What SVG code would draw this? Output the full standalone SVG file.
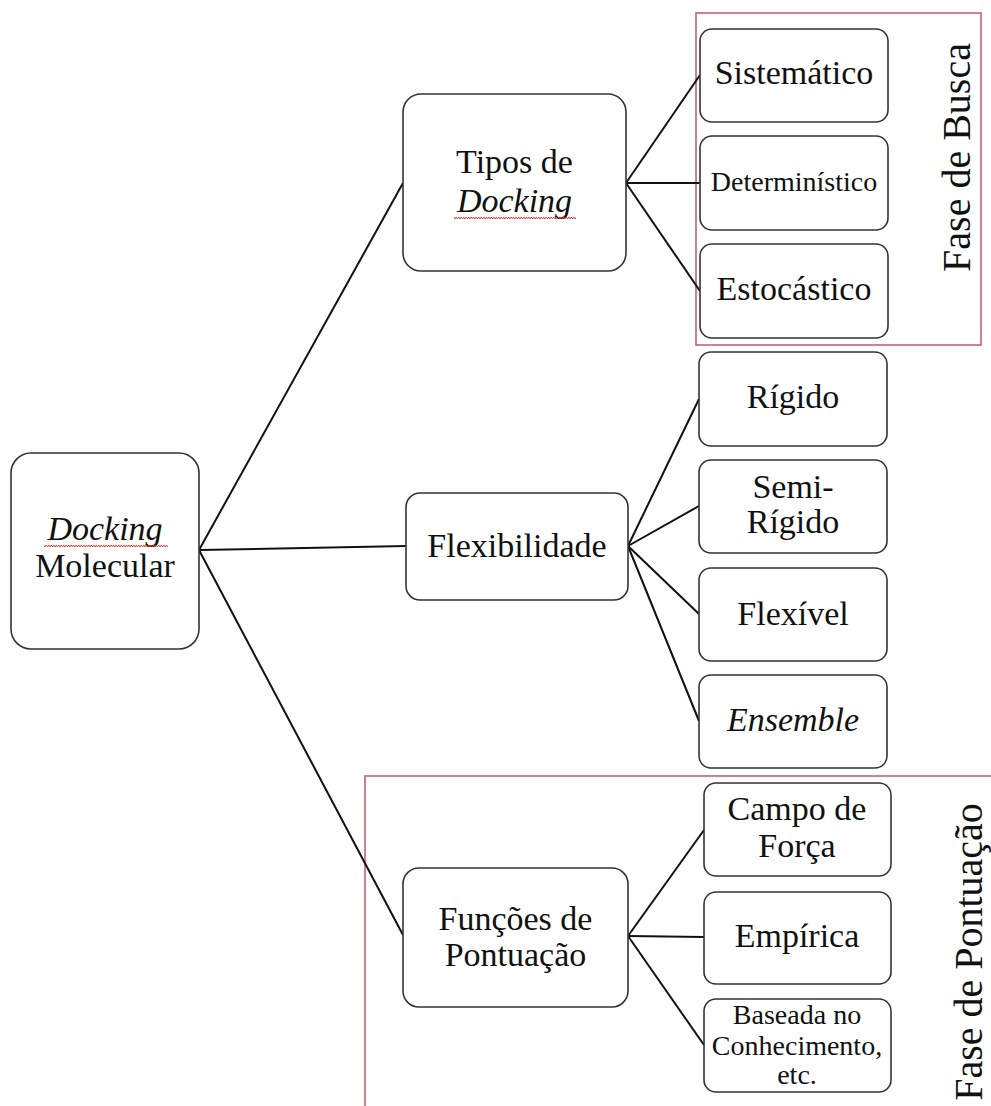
<svg xmlns="http://www.w3.org/2000/svg" width="991" height="1106" viewBox="0 0 991 1106" font-family="Liberation Serif, Times New Roman, DejaVu Serif, serif">
<defs>
<style>
.box{fill:#fff;stroke:#333;stroke-width:1.6}
.t{fill:#111;text-anchor:middle}
.lg{font-size:34px}
.md{font-size:34px}
.sm{font-size:28px}
.conn line{stroke:#111;stroke-width:2}
.phase{fill:none;stroke:#c25866;stroke-width:1.5}
.it{font-style:italic}
</style>
<pattern id="wave" width="5" height="4" patternUnits="userSpaceOnUse">
<polyline points="0,3 1.25,1 2.5,3 3.75,1 5,3" fill="none" stroke="#e03030" stroke-width="0.9"/>
</pattern>
</defs>
<rect width="991" height="1106" fill="#fff"/>

<g id="phase-busca">
<rect class="phase" x="696" y="13" width="285" height="332"/>
<text class="t" font-size="40" transform="translate(970,157.5) rotate(-90)">Fase de Busca</text>
</g>
<g id="phase-pontuacao">
<path class="phase" d="M995,776 H365 V1110"/>
<text class="t" font-size="40" transform="translate(982,952) rotate(-90)">Fase de Pontuação</text>
</g>

<g id="connectors" class="conn">
<line x1="199" y1="550" x2="403" y2="183"/>
<line x1="199" y1="550" x2="406" y2="546"/>
<line x1="199" y1="550" x2="403" y2="935"/>
<line x1="626" y1="183" x2="700" y2="75"/>
<line x1="626" y1="183" x2="700" y2="183"/>
<line x1="626" y1="183" x2="700" y2="291"/>
<line x1="628" y1="546" x2="699" y2="399"/>
<line x1="628" y1="546" x2="699" y2="506"/>
<line x1="628" y1="546" x2="699" y2="614"/>
<line x1="628" y1="546" x2="699" y2="721"/>
<line x1="628" y1="936" x2="704" y2="830"/>
<line x1="628" y1="936" x2="704" y2="937"/>
<line x1="628" y1="936" x2="704" y2="1045"/>
</g>

<g id="docking-molecular">
<rect class="box" x="11" y="453" width="188" height="196" rx="20"/>
<text class="t lg it" x="105" y="540">Docking</text>
<text class="t lg" x="105" y="577">Molecular</text>
<rect x="44" y="544" width="124" height="4" fill="url(#wave)"/>
</g>

<g id="tipos-docking">
<rect class="box" x="403" y="94" width="223" height="177" rx="18"/>
<text class="t lg" x="514.5" y="173">Tipos de</text>
<text class="t lg it" x="514.5" y="212">Docking</text>
<rect x="454" y="215" width="122" height="4" fill="url(#wave)"/>
</g>

<g id="flexibilidade">
<rect class="box" x="406" y="493" width="222" height="107" rx="14"/>
<text class="t lg" x="517" y="557">Flexibilidade</text>
</g>

<g id="funcoes-pontuacao">
<rect class="box" x="403" y="868" width="225" height="139" rx="16"/>
<text class="t lg" x="515.5" y="930">Funções de</text>
<text class="t lg" x="515.5" y="966">Pontuação</text>
</g>

<g id="sistematico">
<rect class="box" x="700" y="29" width="188" height="93" rx="12"/>
<text class="t md" x="794" y="84">Sistemático</text>
</g>
<g id="deterministico">
<rect class="box" x="700" y="136" width="188" height="94" rx="12"/>
<text class="t sm" x="794" y="191">Determinístico</text>
</g>
<g id="estocastico">
<rect class="box" x="700" y="244" width="188" height="94" rx="12"/>
<text class="t md" x="794" y="300">Estocástico</text>
</g>

<g id="rigido">
<rect class="box" x="699" y="352" width="188" height="94" rx="12"/>
<text class="t md" x="793" y="408">Rígido</text>
</g>
<g id="semi-rigido">
<rect class="box" x="699" y="460" width="188" height="93" rx="12"/>
<text class="t md" x="793" y="498">Semi-</text>
<text class="t md" x="793" y="533">Rígido</text>
</g>
<g id="flexivel">
<rect class="box" x="699" y="568" width="188" height="93" rx="12"/>
<text class="t md" x="793" y="625">Flexível</text>
</g>
<g id="ensemble">
<rect class="box" x="699" y="675" width="188" height="93" rx="12"/>
<text class="t md it" x="793" y="731">Ensemble</text>
</g>

<g id="campo-forca">
<rect class="box" x="704" y="783" width="187" height="93" rx="12"/>
<text class="t md" x="797" y="820">Campo de</text>
<text class="t md" x="797" y="857">Força</text>
</g>
<g id="empirica">
<rect class="box" x="704" y="892" width="187" height="92" rx="12"/>
<text class="t md" x="797" y="947">Empírica</text>
</g>
<g id="baseada">
<rect class="box" x="704" y="999" width="187" height="93" rx="12"/>
<text class="t sm" x="797" y="1024">Baseada no</text>
<text class="t sm" x="797" y="1055">Conhecimento,</text>
<text class="t sm" x="797" y="1084">etc.</text>
</g>
</svg>
